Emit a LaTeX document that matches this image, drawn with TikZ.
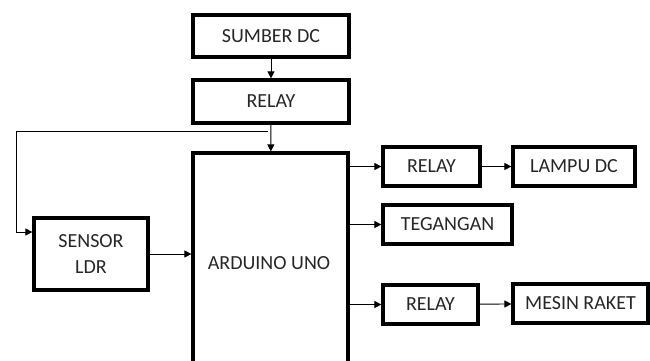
\documentclass[tikz,border=0pt]{standalone}
\usepackage{fontspec}
\setmainfont{Carlito}
\usetikzlibrary{arrows.meta,positioning,calc}

\begin{document}
\begin{tikzpicture}[
  x=1pt, y=-1pt,
  box/.style={draw, line width=3.2pt, inner sep=0pt, align=center, text=black!85, font=\fontsize{20}{26}\selectfont},
  arrow/.style={-{Triangle[length=7pt,width=7pt]}, line width=0.9pt}
]
\useasboundingbox (0,0) rectangle (650,360);
\clip (0,0) rectangle (650,360);
\node[box, minimum width=156pt, minimum height=42pt] (src) at (271,36) {SUMBER DC};
\node[box, minimum width=156pt, minimum height=43pt] (rly) at (271,101.5) {RELAY};
\node[box, minimum width=155pt, minimum height=215pt] (ard) at (270.5,260.5) {};
\node[text=black!85, font=\fontsize{20}{26}\selectfont] (ardtxt) at (269,263) {ARDUINO UNO};
\node[box, minimum width=114pt, minimum height=72pt] (ldr) at (91,254) {SENSOR\\LDR};
\node[box, minimum width=97pt, minimum height=39pt] (r1) at (431.5,166.5) {RELAY};
\node[box, minimum width=122pt, minimum height=39pt] (lamp) at (574,166.5) {LAMPU DC};
\node[box, minimum width=129pt, minimum height=39pt] (volt) at (447.5,224.5) {TEGANGAN};
\node[box, minimum width=95pt, minimum height=39pt] (r2) at (430.5,304.5) {RELAY};
\node[box, minimum width=135pt, minimum height=39pt] (motor) at (580.5,303.5) {MESIN RAKET};
\coordinate (split) at (268,131);
\coordinate (fb) at (16,131);
\coordinate (ldrin) at ([yshift=22pt]ldr.west);
\draw[arrow] (src) -- (rly);
\draw[arrow] (rly) -- (ard);
\draw[arrow] (split) -- (fb) -- (fb |- ldrin) -- (ldrin);
\draw[arrow] (ldr.east) -- (ldr.east -| ard.west);
\draw[arrow] (r1.west -| ard.east) -- (r1.west);
\draw[arrow] (r1) -- (lamp);
\draw[arrow] (volt.west -| ard.east) -- (volt.west);
\draw[arrow] (r2.west -| ard.east) -- (r2.west);
\draw[arrow] (r2) -- (motor);
\end{tikzpicture}
\end{document}
